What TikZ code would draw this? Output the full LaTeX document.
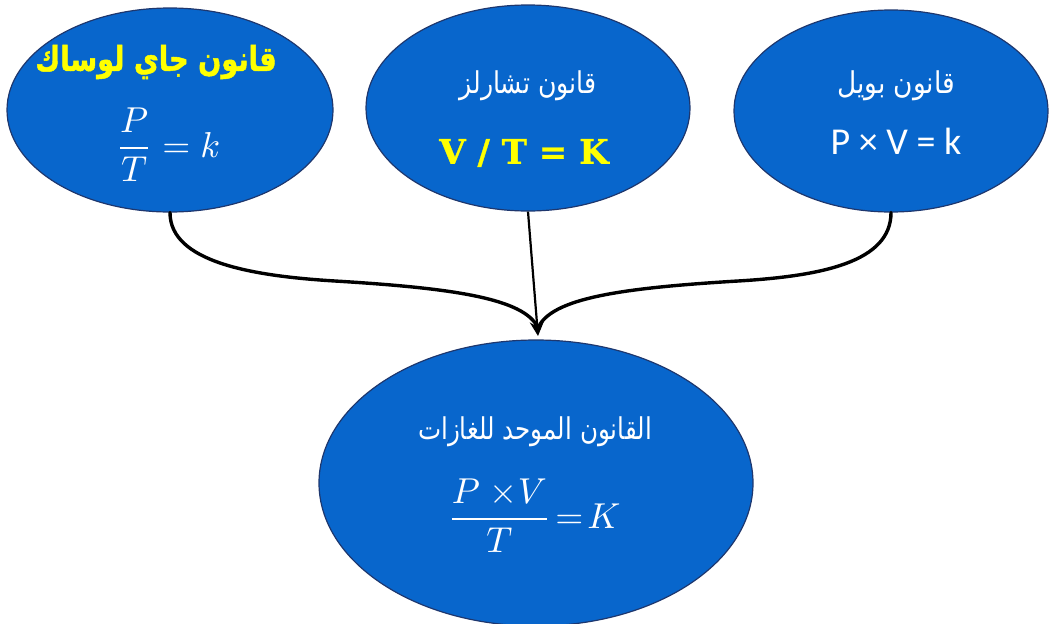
\documentclass[tikz,border=0pt]{standalone}
\usepackage{fontspec}
\usepackage{amsmath}
\usepackage{graphicx}
\usetikzlibrary{shapes.geometric,arrows.meta}
\TeXXeTstate=1
\newfontfamily\arabicfont[Script=Arabic]{DejaVu Sans}
\newfontfamily\arabicbold[Script=Arabic,FakeBold=1.5]{DejaVu Sans Bold}
\newfontfamily\calib{Carlito}
\newfontfamily\heavyserif[FakeBold=1]{DejaVu Serif Bold}
\definecolor{ellfill}{RGB}{8,102,204}
\definecolor{ellline}{RGB}{30,55,110}
\definecolor{yel}{RGB}{255,255,0}
\tikzset{
  ell/.style={ellipse, draw=ellline, line width=1.2pt, fill=ellfill, inner sep=0pt},
  wtxt/.style={text=white, inner sep=0pt, anchor=center},
  ytxt/.style={text=yel, inner sep=0pt, anchor=center},
  conn/.style={draw=black, line width=3.4pt},
}
\begin{document}
\begin{tikzpicture}[x=1pt,y=-1pt]
\useasboundingbox (0,0) rectangle (1053,624);
% ellipses
\node[ell, minimum width=326pt, minimum height=204pt] (L) at (170,110) {};
\node[ell, minimum width=324pt, minimum height=206pt] (M) at (528,108) {};
\node[ell, minimum width=314pt, minimum height=202pt] (R) at (891,111) {};
\node[ell, minimum width=434pt, minimum height=286pt] (B) at (536,483) {};
% connectors
\coordinate (tip) at (538,336);
\coordinate (lmid) at (335,281);
\coordinate (rmid) at (738,281);
\draw[conn, line cap=round] (L.south) .. controls (170,262) and (252,276) .. (lmid)
   .. controls (450,288) and (525,298) .. ([yshift=8pt]tip);
\draw[conn, line cap=round] (R.south) .. controls (891,262) and (822,276) .. (rmid)
   .. controls (622,288) and (551,298) .. ([yshift=8pt]tip);
\draw[line width=2.2pt, -{Stealth[length=14pt,width=14pt]}] (M.south) -- (tip);
% left texts
\node[ytxt] (Lt) at (156,62) {\scalebox{0.8}[1]{\fontsize{34}{40}\selectfont\arabicbold\beginR قانون جاي لوساك\endR}};
\node[wtxt] (Lf) at (168,145) {\scalebox{3.6}{\color{white}$\dfrac{P}{T}=k$}};
% middle texts
\node[wtxt] (Mt) at (528,86) {\scalebox{0.84}[1]{\fontsize{30}{36}\selectfont\arabicfont\beginR قانون تشارلز\endR}};
\node[ytxt] (Mf) at (524,153) {\fontsize{34}{40}\selectfont\heavyserif V / T = K};
% right texts
\node[wtxt] (Rf) at (896,141) {\fontsize{38}{44}\selectfont\calib P × V = k};
\node[wtxt] (Rt) at (896,86) {\scalebox{0.88}[1]{\fontsize{30}{36}\selectfont\arabicfont\beginR قانون بويل\endR}};
% bottom texts
\node[wtxt] (Bt) at (535,432) {\scalebox{0.82}[1]{\fontsize{30}{36}\selectfont\arabicfont\beginR القانون الموحد للغازات\endR}};
\node[wtxt] (Bf) at (534,516) {\scalebox{3.6}{\color{white}$\dfrac{P\;{\times}V}{T}\!=\!K$}};
\end{tikzpicture}
\end{document}
